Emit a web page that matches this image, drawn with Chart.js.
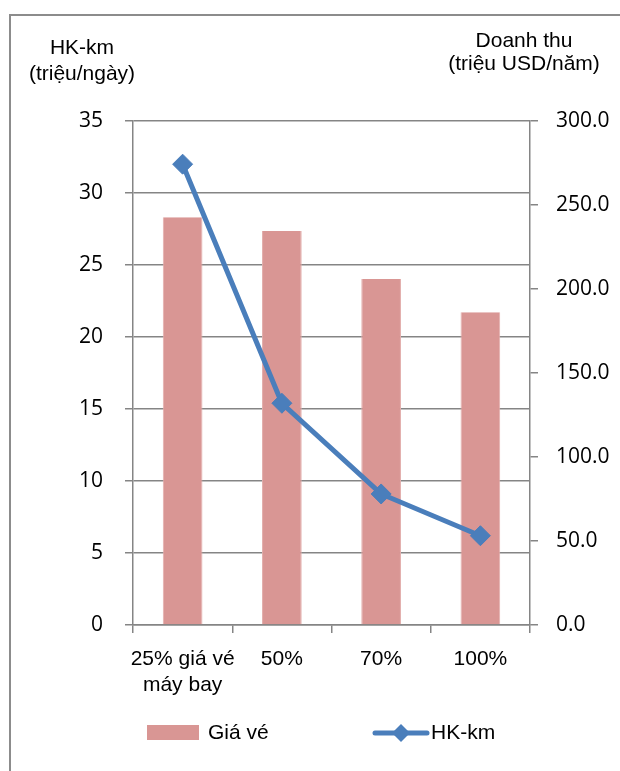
<!DOCTYPE html>
<html>
<head>
<meta charset="utf-8">
<script src="https://cdn.jsdelivr.net/npm/chart.js@4"></script>
<style>
  html, body { margin: 0; padding: 0; background: #fff; overflow: hidden; }
  #wrap { position: relative; width: 620px; height: 771px; }
  #frame { position: absolute; left: 9px; top: 14px; width: 700px; height: 900px;
           border-left: 2px solid #8c8c8c; border-top: 2px solid #8c8c8c; box-sizing: border-box; }
  #chart-box { position: absolute; left: 0; top: 0; width: 620px; height: 771px; }
  .ttl { position: absolute; font-family: "Liberation Sans", Arial, sans-serif; font-size: 21px;
         color: #000; text-align: center; white-space: nowrap; }
  .leg { position: absolute; font-family: "Liberation Sans", Arial, sans-serif; font-size: 21px;
         color: #000; white-space: nowrap; line-height: 24px; }
</style>
</head>
<body>
<div id="wrap">
  <div id="frame"></div>
  <div id="chart-box"><canvas id="c"></canvas></div>
  <div class="ttl" id="tl" style="left:22px; width:120px; top:34px; line-height:26px;">HK-km<br>(triệu/ngày)</div>
  <div class="ttl" id="tr" style="left:444px; width:160px; top:28px; line-height:23px;">Doanh thu<br>(triệu USD/năm)</div>
  <div id="legend">
    <div style="position:absolute; left:147px; top:725px; width:52px; height:15px; background:#d99694;"></div>
    <div class="leg" style="left:208px; top:720px;">Giá vé</div>
    <svg style="position:absolute; left:372px; top:721px;" width="58" height="24">
      <line x1="3" y1="12" x2="55" y2="12" stroke="#4a7ebb" stroke-width="5" stroke-linecap="round"/>
      <polygon points="29,3 38,12 29,21 20,12" fill="#4a7ebb"/>
    </svg>
    <div class="leg" style="left:431px; top:720px;">HK-km</div>
  </div>
</div>
<script>
// Price scenarios (share of the air fare)
const categories = [['25% giá vé', 'máy bay'], '50%', '70%', '100%'];
// Revenue, million USD per year (right axis)
const giaVe = [242.7, 234.5, 206.0, 186.1];
// Passenger-km, million per day (left axis)
const hkKm = [32.0, 15.4, 9.1, 6.2];
// Axis ranges
const leftTicks = { min: 0, max: 35, step: 5 };
const rightTicks = { min: 0, max: 300, step: 50 };

const GRID = '#858585';
const tickFont = { family: '"Open Sans", "Noto Sans", sans-serif', size: 21 };
const catFont = { family: '"Liberation Sans", Arial, sans-serif', size: 21 };

new Chart(document.getElementById('c'), {
  type: 'bar',
  data: {
    labels: categories,
    datasets: [
      {
        type: 'line',
        label: 'HK-km',
        data: hkKm,
        yAxisID: 'y',
        borderColor: '#4a7ebb',
        backgroundColor: '#4a7ebb',
        borderWidth: 5,
        tension: 0,
        pointStyle: 'rectRot',
        pointRadius: 10,
        pointBorderWidth: 1,
        pointHoverRadius: 10,
        order: 1
      },
      {
        type: 'bar',
        label: 'Giá vé',
        data: giaVe,
        yAxisID: 'y1',
        backgroundColor: '#d99694',
        borderColor: '#e3aeac',
        borderWidth: { left: 1, right: 1, top: 0, bottom: 0 },
        categoryPercentage: 1,
        barPercentage: 0.4,
        order: 2
      }
    ]
  },
  options: {
    responsive: true,
    maintainAspectRatio: false,
    animation: false,
    layout: { padding: { top: 121, left: 0, right: 0, bottom: 0 } },
    plugins: { legend: { display: false }, tooltip: { enabled: false } },
    scales: {
      x: {
        offset: true,
        grid: { offset: true, drawOnChartArea: false, drawTicks: true, tickLength: 8, color: GRID, lineWidth: 1.5 },
        border: { display: true, color: GRID, width: 1.5 },
        ticks: { color: '#000', font: catFont, padding: 14, maxRotation: 0, autoSkip: false },
        afterFit: s => { s.height = 146; }
      },
      y: {
        position: 'left',
        min: leftTicks.min, max: leftTicks.max,
        grid: { color: GRID, lineWidth: 1.5, tickLength: 8 },
        border: { display: true, color: GRID, width: 1.5 },
        ticks: { stepSize: leftTicks.step, color: '#000', font: tickFont, padding: 22 },
        afterFit: s => { s.width = 133; }
      },
      y1: {
        position: 'right',
        min: rightTicks.min, max: rightTicks.max,
        grid: { drawOnChartArea: false, color: GRID, lineWidth: 1.5, tickLength: 8 },
        border: { display: true, color: GRID, width: 1.5 },
        ticks: { stepSize: rightTicks.step, color: '#000', font: tickFont, padding: 18,
                 callback: v => Number(v).toFixed(1) },
        afterFit: s => { s.width = 90; }
      }
    }
  }
});
</script>
</body>
</html>
